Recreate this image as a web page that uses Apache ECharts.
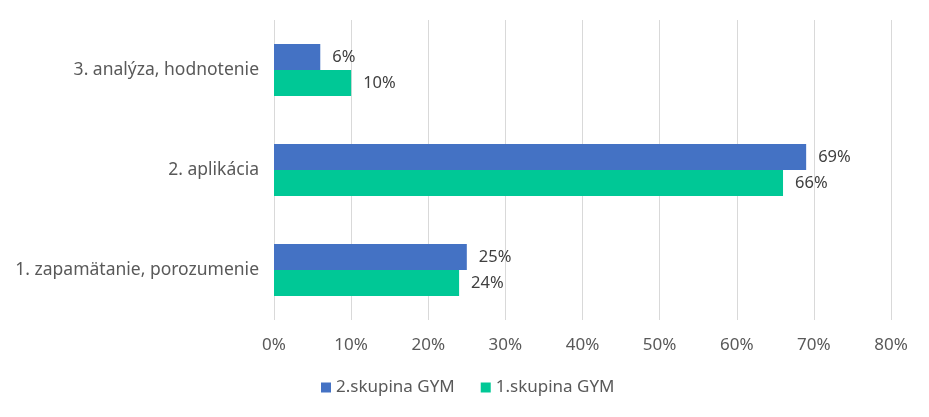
<!DOCTYPE html>
<html><head><meta charset="utf-8">
<script src="https://cdn.jsdelivr.net/npm/echarts@6/dist/echarts.min.js"></script>
<style>html,body{margin:0;padding:0;background:#fff}#c{width:929px;height:417px}</style>
</head><body><div id="c"></div>
<script>
const categories = ["1. zapamätanie, porozumenie", "2. aplikácia", "3. analýza, hodnotenie"];
const group1 = [24, 66, 10];
const group2 = [25, 69, 6];
const xTicks = [0, 10, 20, 30, 40, 50, 60, 70, 80];
const FONT = "Noto Sans";
const chart = echarts.init(document.getElementById('c'));
const lbl = {show: true, position: 'right', distance: 12, formatter: p => p.value + '%', color: '#404040', fontFamily: FONT, fontSize: 16.5};
chart.setOption({
  animation: false,
  textStyle: {fontFamily: FONT},
  grid: {left: 274, right: 38, top: 20, bottom: 97, containLabel: false},
  legend: {
    data: ['2.skupina GYM', '1.skupina GYM'], bottom: 16, left: 316,
    icon: 'rect', itemWidth: 10, itemHeight: 10, itemGap: 26,
    textStyle: {color: '#595959', fontSize: 17, fontFamily: FONT}
  },
  xAxis: {
    type: 'value', min: xTicks[0], max: xTicks[xTicks.length - 1], interval: 10,
    axisLine: {show: false}, axisTick: {show: false},
    splitLine: {lineStyle: {color: '#d9d9d9', width: 1}},
    axisLabel: {formatter: v => v + '%', color: '#595959', fontSize: 17, margin: 17, fontFamily: FONT}
  },
  yAxis: {
    type: 'category', data: categories,
    axisLine: {show: false}, axisTick: {show: false},
    axisLabel: {color: '#595959', fontSize: 17.5, margin: 15, fontFamily: FONT}
  },
  series: [
    {name: '2.skupina GYM', type: 'bar', data: group2, itemStyle: {color: '#4472C4'}, barGap: '0%', barCategoryGap: '48%', label: lbl},
    {name: '1.skupina GYM', type: 'bar', data: group1, itemStyle: {color: '#00C896'}, barGap: '0%', barCategoryGap: '48%', label: lbl}
  ]
});
</script></body></html>
